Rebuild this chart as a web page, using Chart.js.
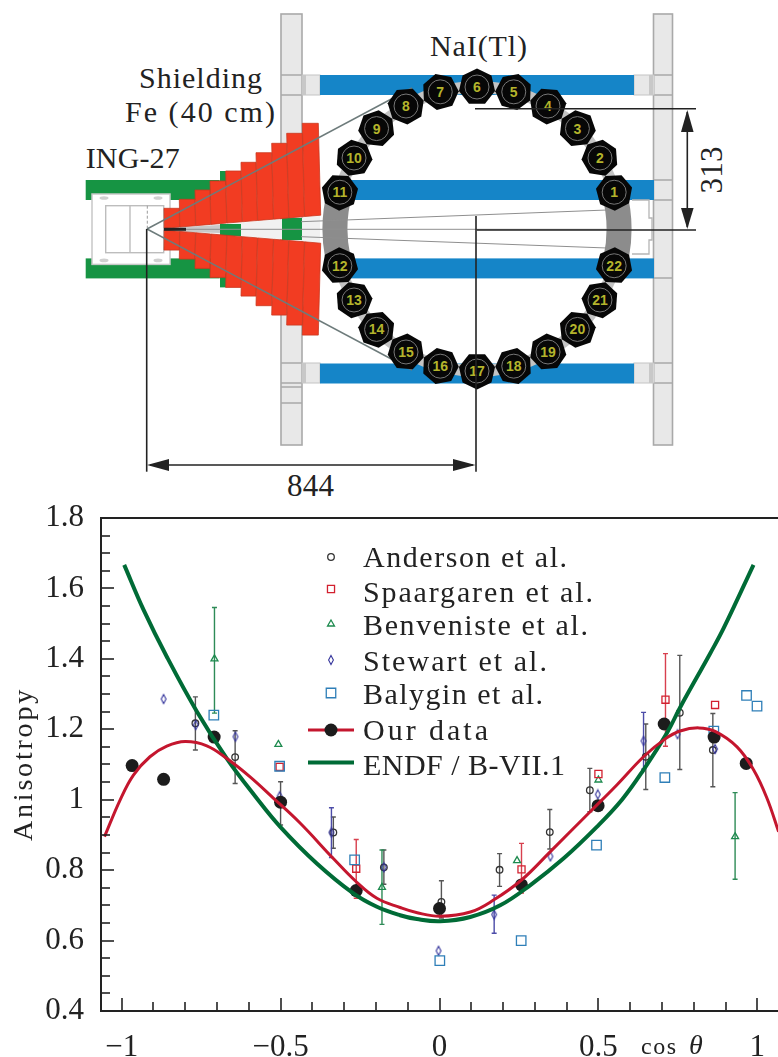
<!DOCTYPE html>
<html>
<head>
<meta charset="utf-8">
<title>Anisotropy</title>
<script src="https://cdn.jsdelivr.net/npm/chart.js@4/dist/chart.umd.js"></script>
<style>
    html, body { margin: 0; padding: 0; background: #fff; overflow: hidden; }
    #scheme { display: block; width: 778px; height: 500px; }
    #chartBox { width: 778px; height: 557px; }
    #scheme text { font-family: "Liberation Serif", serif; fill: #222; }
</style>
</head>
<body>
<svg id="scheme" width="778" height="500" viewBox="0 0 778 500"></svg>
<div id="chartBox"><canvas id="anisotropyChart" width="778" height="557"></canvas></div>

<script>
// data
const andersonX = [-0.768, -0.643, -0.5, -0.334, -0.175, 0.006, 0.189, 0.347, 0.473, 0.649, 0.756, 0.86];
const andersonY = [1.217, 1.121, 0.99, 0.907, 0.808, 0.71, 0.801, 0.908, 1.027, 1.122, 1.247, 1.141];
const andersonLow = [1.141, 1.046, 0.928, 0.862, 0.76, 0.664, 0.754, 0.86, 0.966, 1.029, 1.086, 1.037];
const andersonHigh = [1.292, 1.196, 1.051, 0.951, 0.857, 0.77, 0.847, 0.972, 1.089, 1.215, 1.41, 1.245];

const spaargarenX = [-0.503, -0.262, 0.258, 0.5, 0.711, 0.867];
const spaargarenY = [1.093, 0.804, 0.802, 1.073, 1.284, 1.269];
const spaargarenLow = [null, 0.72, 0.735, null, 1.152, null];
const spaargarenHigh = [null, 0.887, 0.876, null, 1.415, null];

const benvenisteX = [-0.708, -0.507, -0.181, 0.244, 0.5, 0.93];
const benvenisteY = [1.4, 1.157, 0.751, 0.827, 1.056, 0.895];
const benvenisteLow = [1.246, null, 0.646, null, null, 0.774];
const benvenisteHigh = [1.546, null, 0.857, null, null, 1.02];

const stewartX = [-0.868, -0.767, -0.642, -0.503, -0.34, -0.175, -0.003, 0.172, 0.349, 0.498, 0.642, 0.749, 0.867];
const stewartY = [1.286, 1.212, 1.179, 1.01, 0.907, 0.808, 0.571, 0.674, 0.839, 1.015, 1.167, 1.186, 1.144];
const stewartLow = [null, null, null, null, 0.836, null, null, 0.621, null, null, 1.087, null, null];
const stewartHigh = [null, null, null, null, 0.977, null, null, 0.729, null, null, 1.248, null, null];

const balyginX = [-0.71, -0.503, -0.267, 0.001, 0.257, 0.494, 0.709, 0.863, 0.966, 0.999];
const balyginY = [1.24, 1.095, 0.829, 0.543, 0.6, 0.871, 1.063, 1.195, 1.296, 1.266];

const ourX = [-0.967, -0.868, -0.709, -0.5, -0.262, 0, 0.258, 0.499, 0.707, 0.864, 0.965];
const ourY = [1.097, 1.058, 1.178, 0.993, 0.742, 0.691, 0.758, 0.983, 1.215, 1.178, 1.103];

const fitX = [-1.054, -1.005, -0.963, -0.911, -0.858, -0.8, -0.732, -0.669, -0.596, -0.522, -0.438, -0.334, -0.262, -0.197, -0.124, -0.07, 0.002, 0.097, 0.17, 0.258, 0.348, 0.474, 0.558, 0.642, 0.709, 0.757, 0.815, 0.867, 0.936, 0.988, 1.03, 1.067];
const fitY = [0.895, 0.999, 1.07, 1.122, 1.152, 1.165, 1.153, 1.117, 1.065, 1.004, 0.933, 0.833, 0.767, 0.72, 0.694, 0.679, 0.669, 0.681, 0.715, 0.772, 0.852, 0.966, 1.042, 1.122, 1.172, 1.195, 1.204, 1.194, 1.15, 1.085, 1.005, 0.909];

const endfX = [-0.992, -0.931, -0.858, -0.763, -0.669, -0.58, -0.501, -0.386, -0.271, -0.197, -0.124, -0.071, 0.002, 0.097, 0.191, 0.285, 0.39, 0.495, 0.574, 0.642, 0.716, 0.757, 0.852, 0.894, 0.988];
const endfY = [1.667, 1.539, 1.406, 1.25, 1.117, 1.01, 0.923, 0.819, 0.734, 0.696, 0.672, 0.661, 0.655, 0.667, 0.7, 0.757, 0.833, 0.923, 1.0, 1.085, 1.19, 1.262, 1.416, 1.487, 1.667];

const xMajorTicks = [-1, -0.5, 0, 0.5, 1];
const xMajorLabels = ['\u22121', '\u22120.5', '0', '0.5', '1'];
const xMinorTicks = [-0.9, -0.8, -0.7, -0.6, -0.4, -0.3, -0.2, -0.1, 0.1, 0.2, 0.3, 0.4, 0.6, 0.7, 0.8, 0.9];
const yMajorTicks = [0.4, 0.6, 0.8, 1, 1.2, 1.4, 1.6, 1.8];
const yMajorLabels = ['0.4', '0.6', '0.8', '1', '1.2', '1.4', '1.6', '1.8'];
const yMinorTicks = [0.45, 0.5, 0.55, 0.65, 0.7, 0.75, 0.85, 0.9, 0.95, 1.05, 1.1, 1.15, 1.25, 1.3, 1.35, 1.45, 1.5, 1.55, 1.65, 1.7, 1.75];

const legendNames = ['Anderson et al.', 'Spaargaren et al.', 'Benveniste et al.', 'Stewart et al.', 'Balygin et al.', 'Our data', 'ENDF / B-VII.1'];

const ink = '#222';
const serif = '"Liberation Serif", serif';

function zip(xs, ys) {
    return xs.map((x, i) => ({ x: x, y: ys[i] }));
}

// narrow diamond used for the Stewart points
function diamondMark(color) {
    const c = document.createElement('canvas');
    c.width = 8;
    c.height = 12;
    const g = c.getContext('2d');
    g.strokeStyle = color;
    g.lineWidth = 1.1;
    g.beginPath();
    g.moveTo(4, 1.5);
    g.lineTo(6.4, 6);
    g.lineTo(4, 10.5);
    g.lineTo(1.6, 6);
    g.closePath();
    g.stroke();
    return c;
}

const pointSeries = (label, xs, ys, color, style, radius, order) => ({
    label: label,
    data: zip(xs, ys),
    showLine: false,
    pointStyle: style,
    pointRadius: radius,
    pointHoverRadius: radius,
    pointBorderColor: color,
    pointBackgroundColor: 'transparent',
    pointBorderWidth: 1.3,
    order: order
});

const lineSeries = (label, xs, ys, color, width, order) => ({
    label: label,
    data: zip(xs, ys),
    showLine: true,
    borderColor: color,
    borderWidth: width,
    pointRadius: 0,
    tension: 0.4,
    order: order
});

const colors = {
    anderson: '#333333',
    spaargaren: '#d2202f',
    benveniste: '#1d8a4e',
    stewart: '#35359c',
    balygin: '#2f7fb8',
    our: '#1c1c1c',
    fit: '#c4162e',
    endf: '#006b36'
};

const stewartMark = diamondMark(colors.stewart);

const errorBars = [
    { xs: andersonX, low: andersonLow, high: andersonHigh, color: '#555555' },
    { xs: spaargarenX, low: spaargarenLow, high: spaargarenHigh, color: '#d8404e' },
    { xs: benvenisteX, low: benvenisteLow, high: benvenisteHigh, color: '#2e8b57' },
    { xs: stewartX, low: stewartLow, high: stewartHigh, color: '#4c4ca8' }
];

const errorBarPlugin = {
    id: 'errorBars',
    beforeDatasetsDraw(chart) {
        const ctx = chart.ctx, sx = chart.scales.x, sy = chart.scales.y;
        ctx.save();
        ctx.lineWidth = 1.4;
        errorBars.forEach(s => {
            ctx.strokeStyle = s.color;
            s.xs.forEach((x, i) => {
                if (s.low[i] === null) return;
                const px = sx.getPixelForValue(x);
                const y1 = sy.getPixelForValue(s.low[i]);
                const y2 = sy.getPixelForValue(s.high[i]);
                ctx.beginPath();
                ctx.moveTo(px, y1);
                ctx.lineTo(px, y2);
                ctx.moveTo(px - 2.5, y1);
                ctx.lineTo(px + 2.5, y1);
                ctx.moveTo(px - 2.5, y2);
                ctx.lineTo(px + 2.5, y2);
                ctx.stroke();
            });
        });
        ctx.restore();
    }
};

// inward ticks, top frame line and the two axis titles
const axisPlugin = {
    id: 'axisExtras',
    afterDraw(chart) {
        const ctx = chart.ctx, sx = chart.scales.x, sy = chart.scales.y, area = chart.chartArea;
        ctx.save();
        ctx.strokeStyle = ink;
        ctx.lineWidth = 1.6;
        const tickX = (v, len) => {
            const p = Math.round(sx.getPixelForValue(v));
            ctx.beginPath();
            ctx.moveTo(p, area.bottom);
            ctx.lineTo(p, area.bottom - len);
            ctx.stroke();
        };
        const tickY = (v, len) => {
            const p = Math.round(sy.getPixelForValue(v));
            ctx.beginPath();
            ctx.moveTo(area.left, p);
            ctx.lineTo(area.left + len, p);
            ctx.stroke();
        };
        xMajorTicks.forEach(v => tickX(v, 13));
        xMinorTicks.forEach(v => tickX(v, 9));
        yMajorTicks.forEach(v => tickY(v, 13));
        yMinorTicks.forEach(v => tickY(v, 9));

        ctx.lineWidth = 2;
        ctx.beginPath();
        ctx.moveTo(area.left, area.top);
        ctx.lineTo(area.right, area.top);
        ctx.stroke();

        ctx.fillStyle = ink;
        ctx.font = '28px ' + serif;
        ctx.letterSpacing = '2.8px';
        ctx.textAlign = 'center';
        ctx.textBaseline = 'alphabetic';
        ctx.save();
        ctx.translate(32, 764 - 500);
        ctx.rotate(-Math.PI / 2);
        ctx.fillText('Anisotropy', 0, 0);
        ctx.restore();

        ctx.textAlign = 'left';
        ctx.font = '24px ' + serif;
        ctx.letterSpacing = '1.5px';
        ctx.fillText('cos', 641, 1054 - 500);
        ctx.font = 'italic 28px ' + serif;
        ctx.letterSpacing = '0px';
        ctx.fillText('\u03b8', 689, 1054 - 500);
        ctx.restore();
    }
};

const legendPlugin = {
    id: 'sketchLegend',
    afterDraw(chart) {
        const ctx = chart.ctx;
        const marks = [
            { style: 'circle', r: 3.3, color: colors.anderson, y: 57 },
            { style: 'rect', r: 5, color: colors.spaargaren, y: 89 },
            { style: 'triangle', r: 4, color: colors.benveniste, y: 124 },
            { style: stewartMark, r: 4, color: colors.stewart, y: 160 },
            { style: 'rect', r: 6.7, color: colors.balygin, y: 193 }
        ];
        const baselines = [67, 102, 135, 171, 204, 240, 275];
        const widths = [204, 230, 225, 184, 180, 125, 202];
        ctx.save();
        marks.forEach(m => {
            ctx.strokeStyle = m.color;
            ctx.lineWidth = 1.3;
            ctx.fillStyle = 'transparent';
            Chart.helpers.drawPoint(ctx, { pointStyle: m.style, radius: m.r, rotation: 0, borderWidth: 1.3 }, 331, m.y);
        });
        ctx.lineWidth = 3;
        ctx.strokeStyle = colors.fit;
        ctx.beginPath();
        ctx.moveTo(308, 230);
        ctx.lineTo(354, 230);
        ctx.stroke();
        ctx.fillStyle = colors.our;
        ctx.beginPath();
        ctx.arc(331, 230, 6.5, 0, Math.PI * 2);
        ctx.fill();
        ctx.lineWidth = 4;
        ctx.strokeStyle = colors.endf;
        ctx.beginPath();
        ctx.moveTo(308, 262.5);
        ctx.lineTo(354, 262.5);
        ctx.stroke();

        ctx.fillStyle = ink;
        ctx.font = '30px ' + serif;
        ctx.textAlign = 'left';
        ctx.textBaseline = 'alphabetic';
        legendNames.forEach((name, i) => {
            ctx.letterSpacing = '0px';
            const gap = (widths[i] - ctx.measureText(name).width) / (name.length - 1);
            ctx.letterSpacing = gap + 'px';
            ctx.fillText(name, 363, baselines[i]);
        });
        ctx.restore();
    }
};

// keep the plot box where the picture has it, labels may stick out of it
const noScalePadding = scale => {
    scale.paddingTop = 0;
    scale.paddingBottom = 0;
    scale.paddingLeft = 0;
    scale.paddingRight = 0;
};

new Chart(document.getElementById('anisotropyChart'), {
    type: 'scatter',
    data: {
        datasets: [
            lineSeries('ENDF/B-VII.1', endfX, endfY, colors.endf, 4, 1),
            lineSeries('Our data fit', fitX, fitY, colors.fit, 3, 0),
            pointSeries('Anderson et al.', andersonX, andersonY, colors.anderson, 'circle', 3.3, 7),
            pointSeries('Spaargaren et al.', spaargarenX, spaargarenY, colors.spaargaren, 'rect', 5, 5),
            pointSeries('Benveniste et al.', benvenisteX, benvenisteY, colors.benveniste, 'triangle', 4, 6),
            pointSeries('Stewart et al.', stewartX, stewartY, colors.stewart, stewartMark, 4, 4),
            pointSeries('Balygin et al.', balyginX, balyginY, colors.balygin, 'rect', 6.7, 3),
            {
                label: 'Our data',
                data: zip(ourX, ourY),
                showLine: false,
                pointRadius: 6.5,
                pointBackgroundColor: colors.our,
                pointBorderColor: colors.our,
                pointBorderWidth: 0,
                order: 2
            }
        ]
    },
    options: {
        responsive: false,
        animation: false,
        layout: { autoPadding: false, padding: { top: 18, right: 0, left: 0, bottom: 0 } },
        plugins: { legend: { display: false }, tooltip: { enabled: false } },
        scales: {
            x: {
                type: 'linear',
                min: -1.065,
                max: 1.065,
                grid: { display: false },
                border: { display: true, color: ink, width: 2 },
                afterBuildTicks: scale => {
                    scale.ticks = xMajorTicks.map(v => ({ value: v }));
                },
                afterFit: scale => {
                    scale.height = 46;
                    noScalePadding(scale);
                },
                ticks: {
                    autoSkip: false,
                    maxRotation: 0,
                    padding: 10,
                    color: ink,
                    font: { family: serif, size: 31 },
                    callback: v => xMajorLabels[xMajorTicks.indexOf(v)]
                }
            },
            y: {
                type: 'linear',
                min: 0.4,
                max: 1.8,
                grid: { display: false },
                border: { display: true, color: ink, width: 2 },
                afterBuildTicks: scale => {
                    scale.ticks = yMajorTicks.map(v => ({ value: v }));
                },
                afterFit: scale => {
                    scale.width = 101;
                    noScalePadding(scale);
                },
                ticks: {
                    autoSkip: false,
                    padding: 9,
                    color: ink,
                    font: { family: serif, size: 31 },
                    callback: v => yMajorLabels[yMajorTicks.indexOf(v)]
                }
            }
        }
    },
    plugins: [errorBarPlugin, axisPlugin, legendPlugin]
});

// detector layout sketch above the chart
const svg = document.getElementById('scheme');

function el(tag, attrs, text) {
    const node = document.createElementNS('http://www.w3.org/2000/svg', tag);
    for (const k in attrs) node.setAttribute(k, attrs[k]);
    if (text !== undefined) node.textContent = text;
    svg.appendChild(node);
    return node;
}
const rect = (x, y, w, h, fill, stroke, sw) => el('rect', { x: x, y: y, width: w, height: h, fill: fill, stroke: stroke || 'none', 'stroke-width': sw || 1 });
const line = (x1, y1, x2, y2, stroke, sw) => el('line', { x1: x1, y1: y1, x2: x2, y2: y2, stroke: stroke, 'stroke-width': sw });
const poly = (pts, fill, stroke, sw) => el('polygon', { points: pts.map(p => p.join(',')).join(' '), fill: fill, stroke: stroke || 'none', 'stroke-width': sw || 1 });

const midY = 229.2;
const mirror = y => 2 * midY - y;
const blue = '#1585c8', pillarFill = '#e8e8e8', pillarEdge = '#a9a9a9', green = '#169443', red = '#f23c22';

// pillars
rect(281, 14, 21, 431, pillarFill, pillarEdge, 1.6);
rect(653.5, 14, 19, 431, pillarFill, pillarEdge, 1.6);
[75, 95, 363, 383, 387, 403].forEach(y => line(281, y, 302, y, pillarEdge, 1.5));
[75, 95, 180, 200, 278, 363, 383].forEach(y => line(653.5, y, 672.5, y, pillarEdge, 1.5));

// cross bars
rect(302, 75, 18, 20, pillarFill, '#c4c4c4', 1);
rect(302, 363, 18, 20, pillarFill, '#c4c4c4', 1);
rect(634, 75, 20, 20, pillarFill, '#c4c4c4', 1);
rect(634, 363, 20, 20, pillarFill, '#c4c4c4', 1);
rect(302, 75, 4, 20, '#c8c8c8');
rect(302, 363, 4, 20, '#c8c8c8');
rect(649, 75, 4, 20, '#c8c8c8');
rect(649, 363, 4, 20, '#c8c8c8');
rect(320, 75, 314, 20, blue);
rect(320, 363.5, 314, 20, blue);
rect(345, 180, 309, 20, blue);
rect(345, 258.4, 309, 20, blue);

// outline at the far end of the beam
el('path', { d: 'M632 200 H649 V218 H652 V240 H649 V254 H632', fill: 'none', stroke: '#b5b5b5', 'stroke-width': 1.3 });

// green housing
rect(85.7, 180, 134, 20, green);
rect(85.7, 258.4, 134, 20, green);
rect(220, 171, 6, 14, green);
rect(220, 273.4, 6, 14, green);

// white source body
rect(92, 194, 78, 70.4, '#fff', '#c8c8c8', 1.5);
rect(105.7, 205.7, 58, 47, '#fff', '#bdbdbd', 1.4);
line(130, 205.7, 130, 252.7, '#bdbdbd', 1.4);
el('line', { x1: 147.3, y1: 205.7, x2: 147.3, y2: 229, stroke: '#9a9a9a', 'stroke-width': 1, 'stroke-dasharray': '3 2' });
[[104, 198], [158, 198], [104, 260.4], [158, 260.4]].forEach(c => el('ellipse', { cx: c[0], cy: c[1], rx: 4.5, ry: 1.8, fill: '#d0d0d0' }));

// collimator wedge
poly([[164, midY], [320, 216], [320, 242.4]], '#f1f1f1');
poly([[164, 228], [220, 225], [220, 233], [164, 231]], '#c9c9c9');
rect(220, 224, 21, 12, green);
rect(282, 218, 20, 22, green);

// stepped shielding
const shieldEdges = [164, 179.3, 195, 210, 225.7, 241, 256, 271.7, 286.7, 302.3, 318.3];
const shieldTops = [208.3, 199.3, 190, 181, 171, 162.3, 152.7, 143.3, 133.3, 123.3];
shieldTops.forEach((top, i) => {
    const x1 = shieldEdges[i], x2 = shieldEdges[i + 1];
    const bottom = x => 228.3 - (x - 164) * 0.0849;
    const shift = 2.4 * (i + 1) / 10;
    poly([[x1, top], [x2, top], [x2 + shift, bottom(x2)], [x1 + shift, bottom(x1)]], red, '#c9391f', 0.8);
    poly([[x1, mirror(top)], [x2, mirror(top)], [x2 + shift, mirror(bottom(x2))], [x1 + shift, mirror(bottom(x1))]], red, '#c9391f', 0.8);
});

// detector ring
const ringX = 477, ringY = 229, ringR = 142;
el('circle', { cx: ringX, cy: ringY, r: ringR, fill: 'none', stroke: '#c4c4c4', 'stroke-width': 12 });
[[-15, 15], [165, 195]].forEach(a => {
    const rad = d => d * Math.PI / 180;
    const x1 = ringX + ringR * Math.cos(rad(a[0])), y1 = ringY + ringR * Math.sin(rad(a[0]));
    const x2 = ringX + ringR * Math.cos(rad(a[1])), y2 = ringY + ringR * Math.sin(rad(a[1]));
    el('path', { d: `M${x1} ${y1} A${ringR} ${ringR} 0 0 1 ${x2} ${y2}`, fill: 'none', stroke: '#8c8c8c', 'stroke-width': 25 });
});

// thin beam lines
[[301, 221.7, 607, 210], [164, 229.3, 607, 229.3], [301, 236.7, 607, 248]].forEach(l => line(l[0], l[1], l[2], l[3], '#8f8f8f', 1));
line(164, 229.3, 186, 229.3, '#222', 3);

// opening lines from the source
line(147, 229, 412, 88, '#6d7b7b', 1.5);
line(147, 229, 412, 370, '#6d7b7b', 1.5);

for (let k = 1; k <= 22; k++) {
    const deg = k <= 11 ? 15 * k : 195 + 15 * (k - 12);
    const a = deg * Math.PI / 180;
    const cx = ringX + ringR * Math.cos(a), cy = ringY - ringR * Math.sin(a);
    const pts = [];
    for (let j = 0; j < 7; j++) {
        const b = a + j * 2 * Math.PI / 7;
        pts.push([cx + 18.5 * Math.cos(b), cy - 18.5 * Math.sin(b)]);
    }
    poly(pts, '#070707');
    el('circle', { cx: cx, cy: cy, r: 12, fill: 'none', stroke: '#777', 'stroke-width': 1 });
    const num = el('text', { x: cx, y: cy + 5, 'text-anchor': 'middle', 'font-size': 14, 'font-weight': 'bold' }, k);
    num.style.fill = '#b4b42c';
    num.style.fontFamily = '"Liberation Sans", sans-serif';
}

// dimension lines
line(475, 108.7, 696, 108.7, ink, 1.6);
line(476.7, 230, 696, 230, ink, 1.6);
line(687.3, 112, 687.3, 227, ink, 1.6);
poly([[687.3, 110], [681, 132], [693.6, 132]], ink);
poly([[687.3, 229], [681, 208], [693.6, 208]], ink);
line(146.7, 229, 146.7, 471.7, ink, 1.6);
line(476, 216, 476, 471.7, ink, 1.6);
line(150, 465, 473, 465, ink, 1.6);
poly([[147, 465], [169, 459], [169, 471]], ink);
poly([[475.5, 465], [453, 459], [453, 471]], ink);

// labels
const label = (x, y, str, size, width, extra) => el('text', Object.assign({ x: x, y: y, 'font-size': size, textLength: width, lengthAdjust: 'spacing' }, extra || {}), str);
label(430, 55.5, 'NaI(Tl)', 30, 97);
label(139, 88, 'Shielding', 30, 123);
label(125, 121.7, 'Fe (40 cm)', 30, 150);
label(85.7, 168.3, 'ING-27', 30, 94);
label(287, 496, '844', 31, 47);
label(0, 0, '313', 31, 47, { transform: 'translate(721.5 193.5) rotate(-90)' });
</script>
</body>
</html>
